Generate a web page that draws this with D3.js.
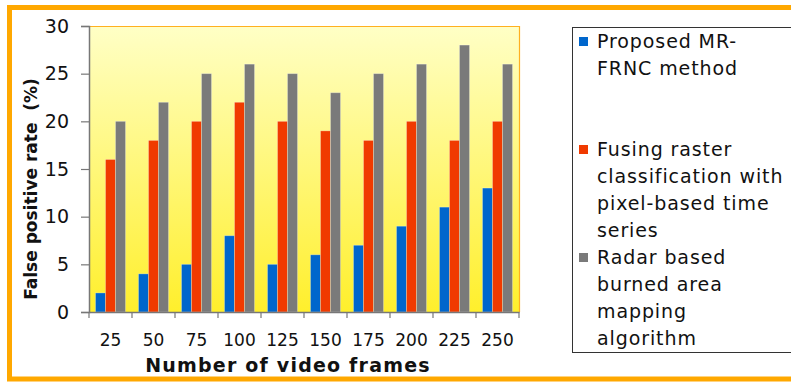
<!DOCTYPE html>
<html>
<head>
<meta charset="utf-8">
<script src="https://cdn.jsdelivr.net/npm/d3@7"></script>
<style>
  html, body { margin: 0; padding: 0; background: #ffffff; }
  svg { display: block; }
  text { font-family: "DejaVu Sans", sans-serif; fill: #111; }
</style>
</head>
<body>
<script>
// Frames per test run
const frames = ["25", "50", "75", "100", "125", "150", "175", "200", "225", "250"];
// False positive rate (%) for each method
const proposed = [2, 4, 5, 8, 5, 6, 7, 9, 11, 13];
const fusing   = [16, 18, 20, 22, 20, 19, 18, 20, 18, 20];
const radar    = [20, 22, 25, 26, 25, 23, 25, 26, 28, 26];
const seriesNames = [
  ["Proposed MR-", "FRNC method"],
  ["Fusing raster", "classification with", "pixel-based time", "series"],
  ["Radar based", "burned area", "mapping", "algorithm"]
];
const seriesColors = ["#0066cc", "#f03a00", "#7a7a7a"];
const yTicks = [0, 5, 10, 15, 20, 25, 30];

const W = 791, H = 383;
const m = { left: 89, top: 26, right: 519, bottom: 312 };

const svg = d3.select("body").append("svg").attr("width", W).attr("height", H);

// outer orange frame (open to the right)
svg.append("rect")
  .attr("x", 9.5).attr("y", 7.5).attr("width", W + 20).attr("height", 371.5)
  .attr("fill", "none").attr("stroke", "#ffa800").attr("stroke-width", 5);

// plot background gradient
const defs = svg.append("defs");
const grad = defs.append("linearGradient").attr("id", "bg")
  .attr("x1", 0).attr("y1", 0).attr("x2", 0).attr("y2", 1);
grad.append("stop").attr("offset", "0%").attr("stop-color", "#ffffc6");
grad.append("stop").attr("offset", "100%").attr("stop-color", "#ffef2c");

const x = d3.scaleBand().domain(frames).range([m.left, m.right]).paddingInner(0).paddingOuter(0);
const y = d3.scaleLinear().domain([0, 30]).range([m.bottom, m.top]);
const inner = d3.scaleBand().domain([0, 1, 2]).range([0, x.bandwidth()]).paddingOuter(0.65).paddingInner(0);

svg.append("rect")
  .attr("x", m.left).attr("y", m.top)
  .attr("width", m.right - m.left).attr("height", m.bottom - m.top)
  .attr("fill", "url(#bg)");
// orange plot border on top and right
svg.append("path")
  .attr("d", `M${m.left},${m.top + 0.5}H${m.right + 0.5}V${m.bottom}`)
  .attr("fill", "none").attr("stroke", "#ffb020").attr("stroke-width", 1.2);

// bars
const series = [proposed, fusing, radar];
series.forEach((vals, si) => {
  svg.append("g").selectAll("rect").data(vals).join("rect")
    .attr("x", (d, i) => x(frames[i]) + inner(si))
    .attr("y", d => y(d))
    .attr("width", inner.bandwidth())
    .attr("height", d => y(0) - y(d))
    .attr("fill", seriesColors[si])
    .attr("stroke", "rgba(255,255,255,0.35)").attr("stroke-width", 0.8);
});

// y axis
const yAxis = svg.append("g").attr("transform", `translate(${m.left},0)`)
  .call(d3.axisLeft(y).tickValues(yTicks).tickSize(8).tickPadding(12));
yAxis.select(".domain").attr("stroke", "#777").attr("stroke-width", 1.5);
yAxis.selectAll(".tick line").attr("stroke", "#777").attr("stroke-width", 1.2);
yAxis.selectAll("text").style("font-size", "19px").attr("fill", "#222")
  .style("font-family", "DejaVu Sans, sans-serif");

// x axis with ticks on band boundaries
const xAxis = svg.append("g").attr("transform", `translate(0,${m.bottom})`)
  .call(d3.axisBottom(x).tickSize(0).tickPadding(22));
xAxis.select(".domain").attr("stroke", "#777").attr("stroke-width", 1.5);
xAxis.selectAll("text").style("font-size", "17px").attr("fill", "#222")
  .style("font-family", "DejaVu Sans, sans-serif");
const bounds = frames.map(f => x(f)).concat([m.right]);
svg.append("g").selectAll("line").data(bounds).join("line")
  .attr("x1", d => d).attr("x2", d => d)
  .attr("y1", m.bottom).attr("y2", m.bottom + 6)
  .attr("stroke", "#777").attr("stroke-width", 1.2);

// axis titles
svg.append("text")
  .attr("x", 288).attr("y", 372)
  .attr("text-anchor", "middle")
  .style("font-size", "19px").style("font-weight", "bold")
  .style("letter-spacing", "1.2px")
  .text("Number of video frames");
svg.append("text")
  .attr("transform", `translate(37,${(m.top + m.bottom) / 2 + 20}) rotate(-90)`)
  .attr("text-anchor", "middle")
  .style("font-size", "17px").style("font-weight", "bold")
  .attr("xml:space", "preserve")
  .text("False positive rate  (%)");

// legend
const lg = svg.append("g");
lg.append("rect")
  .attr("x", 572.5).attr("y", 27.5).attr("width", 240).attr("height", 325)
  .attr("fill", "#fff").attr("stroke", "#333").attr("stroke-width", 1);
const starts = [48, 156, 264];
seriesNames.forEach((lines, si) => {
  lg.append("rect")
    .attr("x", 579).attr("y", starts[si] - 11).attr("width", 9).attr("height", 9)
    .attr("fill", seriesColors[si]);
  const t = lg.append("text")
    .attr("x", 597).attr("y", starts[si])
    .style("font-size", "19px").style("letter-spacing", "0.9px").attr("fill", "#111");
  lines.forEach((ln, li) => {
    t.append("tspan").attr("x", 597).attr("dy", li === 0 ? 0 : 27).text(ln);
  });
});
</script>
</body>
</html>
